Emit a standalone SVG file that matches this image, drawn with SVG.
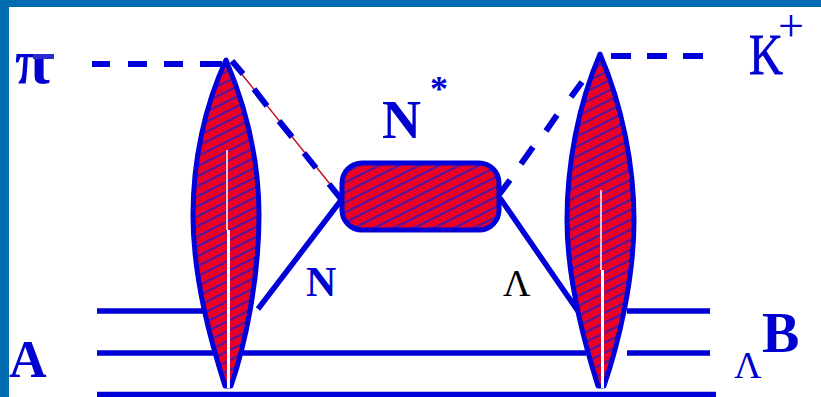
<svg xmlns="http://www.w3.org/2000/svg" width="821" height="397" viewBox="0 0 821 397">
<style>
.b{fill:url(#h);stroke:#0000d8;stroke-width:5;stroke-linejoin:round}
.l{stroke:#0000d8;stroke-width:5.500;fill:none}
.d{stroke:#0000d8;stroke-width:6;fill:none}
.w{stroke:#fff;fill:none}
.t{font-family:"Liberation Serif",serif;font-weight:bold;fill:#0000d0}
.n{font-family:"Liberation Serif",serif;fill:#0000d0}
</style>
<defs>
<pattern id="h" width="20" height="10" patternUnits="userSpaceOnUse">
<rect width="20" height="10" fill="#ea0026"/>
<path d="M-2 6L12 -1M8 11L22 4M-2 16L12 9" stroke="#5a149c" stroke-width="2.200"/>
</pattern>
</defs>
<rect width="821" height="397" fill="#fff"/>
<path d="M0 0H821V7H9V397H0Z" fill="#006bb0"/>
<g id="connectors">
<path class="l" d="M97 311H212M97 353H220M240 353H586M627 311H710M627 353H710M97 394.500H716"/>
<path class="l" d="M342 199L258 309M500 198L580 314"/>
<path stroke="#c01020" stroke-width="1.500" d="M232 62L342 199"/>
<path class="d" d="M92 64H110M128 64H147M164 64H183M200 64H222M232 61L243 74M254 89L267 106M279 121L292 137M304 153L316 168M329 184L341 199"/>
<path class="d" d="M611 56H631M647 56H667M683 56H703M582 82L571 97M557 115L546 131M533 147L521 164M510 180L498 196"/>
</g>
<g id="lens-left">
<path class="b" d="M226 60C205 105 193 160 193 215C193 280 212 345 225 386H231C245 345 259 280 259 215C259 160 245 105 226 60Z"/>
<path class="w" stroke-width="1.500" d="M227 150V230"/>
<path class="w" stroke-width="3" d="M228.500 230V388"/>
</g>
<g id="lens-right">
<path class="b" d="M600 54C578 105 567 165 567 220C567 280 585 345 598 386H604C618 345 634 280 634 220C634 165 622 105 600 54Z"/>
<path class="w" stroke-width="1.500" d="M601 190V270"/>
<path class="w" stroke-width="3" d="M602.500 270V388"/>
</g>
<g id="resonance">
<rect class="b" x="342" y="163" width="157" height="67" rx="20"/>
</g>
<g id="labels">
<text class="t" x="15" y="83" font-size="64">π</text>
<rect x="33" y="54" width="21" height="5" fill="#2a2ad0"/>
<text class="n" x="749" y="74" font-size="58" textLength="34" lengthAdjust="spacingAndGlyphs" stroke="#0000d0" stroke-width="0.800">K</text>
<text class="n" x="778" y="41" font-size="46">+</text>
<text class="t" x="382" y="138" font-size="54">N</text>
<text class="t" x="430" y="101" font-size="36">*</text>
<text class="t" x="306" y="296" font-size="42">N</text>
<text x="503" y="296" font-size="38" font-family="'Liberation Serif',serif" fill="#000">Λ</text>
<text class="t" x="9" y="377" font-size="52">A</text>
<text class="t" x="762" y="352" font-size="56">B</text>
<text class="n" x="734" y="378" font-size="38">Λ</text>
</g>
</svg>
